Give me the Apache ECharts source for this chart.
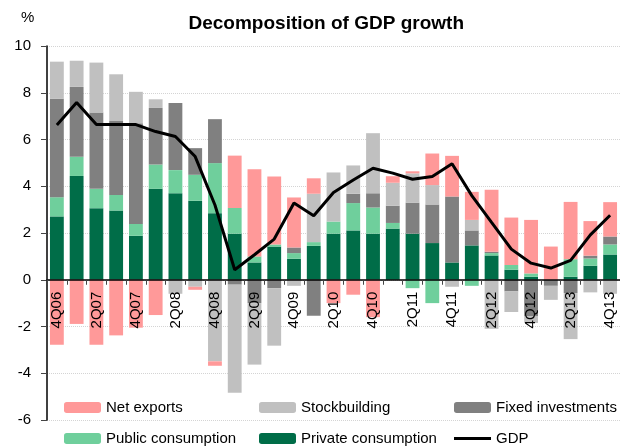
<!DOCTYPE html>
<html>
<head>
<meta charset="utf-8">
<script src="https://cdn.jsdelivr.net/npm/echarts@6/dist/echarts.min.js"></script>
<style>
html,body{margin:0;padding:0;background:#fff;}
#chart{width:620px;height:446px;}
</style>
</head>
<body>
<div id="chart"></div>
<script>
const quarters = ['4Q06','1Q07','2Q07','3Q07','4Q07','1Q08','2Q08','3Q08','4Q08','1Q09','2Q09','3Q09','4Q09','1Q10','2Q10','3Q10','4Q10','1Q11','2Q11','3Q11','4Q11','1Q12','2Q12','3Q12','4Q12','1Q13','2Q13','3Q13','4Q13'];
const privateConsumption = [2.71,4.44,3.06,2.96,1.88,3.89,3.70,3.38,2.85,1.97,0.74,1.42,0.90,1.45,1.97,2.11,1.97,2.19,1.97,1.57,0.74,1.47,1.04,0.43,0.13,0,0.13,0.60,1.08];
const publicConsumption = [0.82,0.82,0.83,0.67,0.51,1.04,0.99,1.11,2.14,1.10,0.26,0.09,0.24,0.16,0.52,1.17,1.12,0.24,-0.36,-1.0,0,-0.26,0.10,0.20,0.14,0,0.75,0.31,0.43];
const fixedInvestments = [4.21,2.99,3.26,3.16,4.30,2.42,2.87,1.14,1.88,-0.21,-1.0,-0.36,0.24,-1.54,0,0.40,0.61,0.74,1.33,1.65,2.82,0.64,0.06,-0.50,-1.55,-0.26,-0.57,0.12,0.34];
const stockbuilding = [1.59,1.12,2.14,2.0,1.35,0.37,-0.6,-0.3,-3.49,-4.62,-2.63,-2.46,-0.26,2.07,2.10,1.21,2.57,0.98,1.25,0.83,-0.3,0.45,-2.1,-0.88,-0.3,-0.6,-1.97,-0.54,-0.6];
const netExports = [-2.78,-1.89,-2.78,-2.38,-2.05,-1.51,0,-0.13,-0.19,2.24,3.73,2.91,2.14,0.66,-1.0,-0.64,-1.6,0.28,0.09,1.35,1.74,1.2,2.65,2.03,2.29,1.42,2.45,1.48,1.47];
const gdp = [6.62,7.58,6.64,6.64,6.64,6.34,6.13,5.27,3.2,0.43,1.07,1.74,3.28,2.74,3.73,4.27,4.77,4.56,4.3,4.42,4.96,3.6,2.45,1.31,0.71,0.5,0.83,1.92,2.76];
const yTicks = [-6,-4,-2,0,2,4,6,8,10];

const FONT = "'Liberation Sans', Arial, sans-serif";
const colors = {
  nx: '#ff9999', sb: '#c0c0c0', fi: '#808080', pub: '#6fcf9c', priv: '#006d48'
};
const GRID_TOP = 46, GRID_BOTTOM = 26, H = 446;
const plotH = H - GRID_TOP - GRID_BOTTOM;
const yMin = yTicks[0], yMax = yTicks[yTicks.length - 1];
// distance from plot bottom up to the zero line (via the axis range)
const zeroOffset = plotH * (0 - yMin) / (yMax - yMin);

function bar(name, data, color) {
  return {
    name: name, type: 'bar', stack: 'g', data: data, barWidth: '70%', z: 2,
    itemStyle: { color: color }, emphasis: { disabled: true }
  };
}
function legendAt(name, left, top, extra) {
  return Object.assign({
    data: [name], left: left, top: top, padding: 0,
    itemWidth: 37, itemHeight: 11, itemGap: 0, selectedMode: false,
    textStyle: { fontFamily: FONT, fontSize: 15, color: '#000', padding: [0,0,0,0] }
  }, extra || {});
}
const chart = echarts.init(document.getElementById('chart'), null, { renderer: 'canvas' });
chart.setOption({
  animation: false,
  backgroundColor: '#fff',
  textStyle: { fontFamily: FONT },
  grid: { left: 47, right: 0, top: GRID_TOP, bottom: GRID_BOTTOM, containLabel: false, outerBoundsMode: 'none' },
  graphic: [
    { type: 'text', left: 325.5 - 137, top: 14, style: { text: 'Decomposition of GDP growth', font: "bold 19px " + FONT, fill: '#000' } },
    { type: 'text', left: 21, top: 10, style: { text: '%', font: "15px " + FONT, fill: '#000' } }
  ],
  legend: [
    legendAt('Net exports', 64, 400),
    legendAt('Stockbuilding', 259, 400),
    legendAt('Fixed investments', 454, 400),
    legendAt('Public consumption', 64, 431),
    legendAt('Private consumption', 259, 431),
    legendAt('GDP', 454, 431, { data: [{ name: 'GDP', icon: 'rect', itemStyle: { color: '#000' } }], itemHeight: 3 })
  ],
  xAxis: {
    type: 'category', data: quarters, boundaryGap: true, offset: -zeroOffset, z: 10,
    axisLine: { onZero: false, lineStyle: { color: '#000', width: 1.5 } },
    axisTick: { show: true, interval: 0, length: 5, lineStyle: { color: '#444' } },
    axisLabel: { interval: 1, rotate: 90, margin: 12, fontSize: 15, color: '#000', fontFamily: FONT, hideOverlap: false },
    splitLine: { show: false }
  },
  yAxis: {
    type: 'value', min: yMin, max: yMax, interval: 2,
    axisLine: { show: true, lineStyle: { color: '#000', width: 1.5 } },
    axisTick: { show: true, length: 6, lineStyle: { color: '#444' } },
    axisLabel: { margin: 16, fontSize: 15, color: '#000', fontFamily: FONT },
    splitLine: { show: true, lineStyle: { color: '#d4d4d4', type: 'dotted', width: 1 } }
  },
  series: [
    bar('Private consumption', privateConsumption, colors.priv),
    bar('Public consumption', publicConsumption, colors.pub),
    bar('Fixed investments', fixedInvestments, colors.fi),
    bar('Stockbuilding', stockbuilding, colors.sb),
    bar('Net exports', netExports, colors.nx),
    {
      name: 'GDP', type: 'line', data: gdp, symbol: 'none', showSymbol: false, z: 5,
      lineStyle: { color: '#000', width: 3 }, itemStyle: { color: '#000' },
      emphasis: { disabled: true }
    }
  ]
});
</script>
</body>
</html>
